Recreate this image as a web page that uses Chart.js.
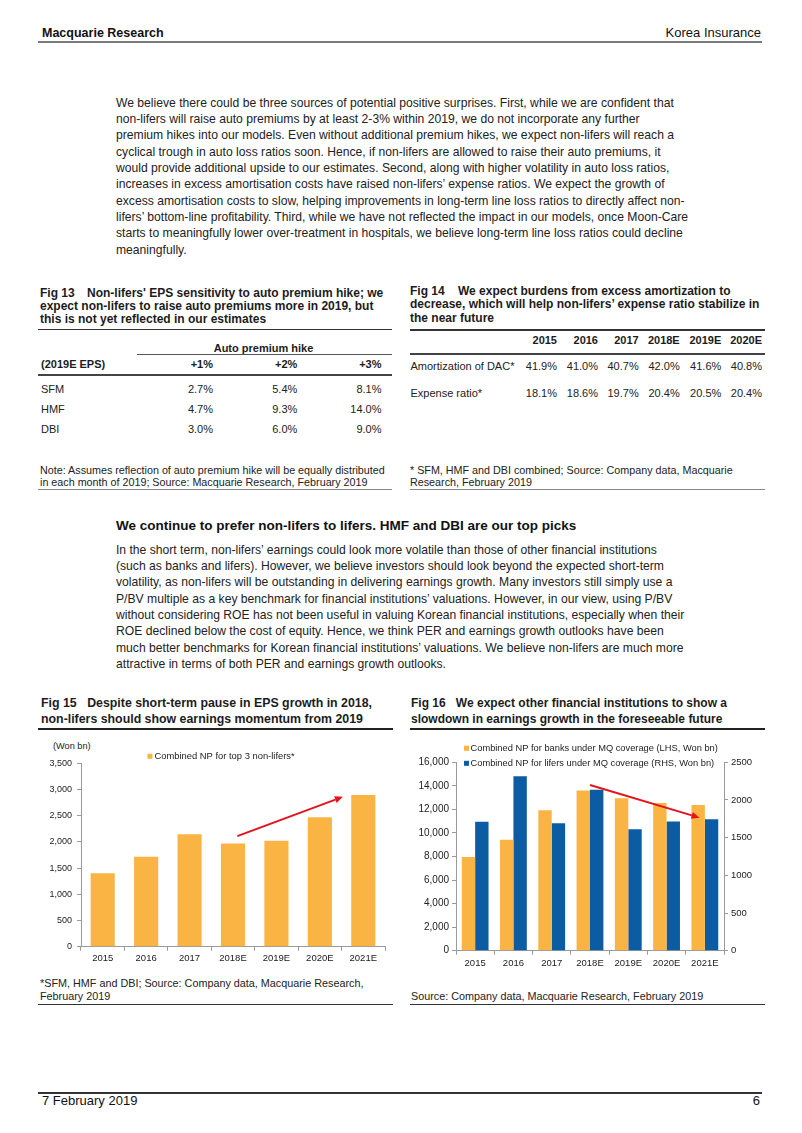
<!DOCTYPE html>
<html><head><meta charset="utf-8">
<script src="https://cdn.jsdelivr.net/npm/chart.js@4.4.1/dist/chart.umd.min.js"></script>
<style>
html,body{margin:0;padding:0;background:#fff;}
body{width:802px;height:1133px;position:relative;overflow:hidden;font-family:"Liberation Sans",Arial,sans-serif;color:#1c1c1c;}
.a{position:absolute;white-space:nowrap;}
.rule{position:absolute;}
.para{position:absolute;left:116px;font-size:12.15px;line-height:16.3px;white-space:nowrap;color:#222;}
.ftitle{position:absolute;font-size:12px;font-weight:bold;line-height:13.2px;white-space:nowrap;}
.ftitle .n{display:inline-block;}
.note{position:absolute;font-size:10.75px;line-height:12.3px;white-space:nowrap;color:#222;}
.ctitle{position:absolute;font-size:13px;font-weight:bold;line-height:16px;white-space:nowrap;}
.ctitle div{transform-origin:0 50%;}
canvas{position:absolute;}
</style>
</head>
<body>
<div id="page"></div>
<script>
// ---------- DATA ----------
const fig13Hikes = ['+1%', '+2%', '+3%'];
const fig13Companies = ['SFM', 'HMF', 'DBI'];
const fig13Sensitivity = [
  [2.7, 5.4, 8.1],
  [4.7, 9.3, 14.0],
  [3.0, 6.0, 9.0]
];
const fig14Years = ['2015', '2016', '2017', '2018E', '2019E', '2020E'];
const fig14Metrics = ['Amortization of DAC*', 'Expense ratio*'];
const fig14AmortDAC = [41.9, 41.0, 40.7, 42.0, 41.6, 40.8];
const fig14ExpenseRatio = [18.1, 18.6, 19.7, 20.4, 20.5, 20.4];

const fig15Years = ['2015', '2016', '2017', '2018E', '2019E', '2020E', '2021E'];
const fig15NonLiferNP = [1400, 1715, 2145, 1970, 2020, 2470, 2895];
const fig15Ticks = [0, 500, 1000, 1500, 2000, 2500, 3000, 3500];
const fig15Arrow = {from: [3.1, 2110], to: [5.53, 2860]};

const fig16Years = ['2015', '2016', '2017', '2018E', '2019E', '2020E', '2021E'];
const fig16BankNP = [7950, 9430, 11920, 13600, 12940, 12550, 12380];
const fig16LiferNP = [1710, 2315, 1690, 2135, 1610, 1715, 1745];
const fig16LeftTicks = [0, 2000, 4000, 6000, 8000, 10000, 12000, 14000, 16000];
const fig16RightTicks = [0, 500, 1000, 1500, 2000, 2500];
const fig16Arrow = {from: [3.0, 14070], to: [5.86, 11300]};

const ORANGE = '#F9B443', BLUE = '#0B5CA3', RED = '#E3141C';

// ---------- PAGE TEXT ----------
const page = document.getElementById('page');
function el(cls, html, style) {
  const d = document.createElement('div');
  d.className = cls; d.innerHTML = html;
  Object.assign(d.style, style || {});
  page.appendChild(d); return d;
}
function txt(html, o) {
  const lh = o.lh || 14;
  const st = {top: (o.cy - lh / 2) + 'px', lineHeight: lh + 'px', fontSize: (o.size || 11) + 'px'};
  if (o.left !== undefined) st.left = o.left + 'px';
  if (o.right !== undefined) { st.right = (802 - o.right) + 'px'; st.textAlign = 'right'; }
  if (o.width !== undefined) { st.width = o.width + 'px'; st.textAlign = 'center'; }
  if (o.bold) st.fontWeight = 'bold';
  if (o.color) st.color = o.color;
  return el('a', html, st);
}
function rule(x1, x2, y, h, c) {
  el('rule', '', {left: x1 + 'px', top: y + 'px', width: (x2 - x1) + 'px', height: h + 'px', background: c});
}

// header / footer
txt('Macquarie Research', {left: 42, cy: 33, size: 12.5, bold: true, lh: 16, color: '#111'});
txt('Korea Insurance', {right: 761, cy: 33, size: 13, lh: 16, color: '#111'});
rule(38, 762, 41, 1.5, '#7a7a7a');
rule(38, 762, 1092, 1.5, '#333');
txt('7 February 2019', {left: 42, cy: 1101, size: 13, lh: 16, color: '#111'});
txt('6', {right: 760, cy: 1101, size: 13, lh: 16, color: '#111'});

// paragraph 1
el('para', [
  'We believe there could be three sources of potential positive surprises. First, while we are confident that',
  'non-lifers will raise auto premiums by at least 2-3% within 2019, we do not incorporate any further',
  'premium hikes into our models. Even without additional premium hikes, we expect non-lifers will reach a',
  'cyclical trough in auto loss ratios soon. Hence, if non-lifers are allowed to raise their auto premiums, it',
  'would provide additional upside to our estimates. Second, along with higher volatility in auto loss ratios,',
  'increases in excess amortisation costs have raised non-lifers\u2019 expense ratios. We expect the growth of',
  'excess amortisation costs to slow, helping improvements in long-term line loss ratios to directly affect non-',
  'lifers\u2019 bottom-line profitability. Third, while we have not reflected the impact in our models, once Moon-Care',
  'starts to meaningfully lower over-treatment in hospitals, we believe long-term line loss ratios could decline',
  'meaningfully.'
].join('<br>'), {top: '94.9px'});

// Fig 13
el('ftitle', '<span class="n" style="width:47px">Fig 13</span>Non-lifers\' EPS sensitivity to auto premium hike; we<br>expect non-lifers to raise auto premiums more in 2019, but<br>this is not yet reflected in our estimates', {left: '40px', top: '286.7px', lineHeight: '13px'});
rule(38, 392, 328.5, 1.6, '#333');
txt('Auto premium hike', {left: 137, width: 253, cy: 347.7, bold: true});
rule(137, 392, 353.5, 1.3, '#555');
const f13ColRight = [213, 297.3, 381.5];
const f13RowY = [389.3, 409.3, 429];
txt('(2019E EPS)', {left: 41, cy: 364.3, bold: true});
fig13Hikes.forEach((h, i) => txt(h, {right: f13ColRight[i], cy: 364.3, bold: true}));
rule(38, 392, 374.3, 1.3, '#444');
fig13Companies.forEach((c, r) => {
  txt(c, {left: 41, cy: f13RowY[r], color: '#222'});
  fig13Sensitivity[r].forEach((v, i) => txt(v.toFixed(1) + '%', {right: f13ColRight[i], cy: f13RowY[r], color: '#222'}));
});
el('note', 'Note: Assumes reflection of auto premium hike will be equally distributed<br>in each month of 2019; Source: Macquarie Research, February 2019', {left: '40px', top: '463.8px'});
rule(38, 392, 489, 1, '#888');

// Fig 14
el('ftitle', '<span class="n" style="width:48px">Fig 14</span>We expect burdens from excess amortization to<br>decrease, which will help non-lifers\u2019 expense ratio stabilize in<br>the near future', {left: '410px', top: '284.9px', lineHeight: '13.6px'});
rule(410, 765, 329, 1.6, '#333');
const f14ColRight = [557, 598, 638.7, 679.7, 721.3, 762];
fig14Years.forEach((y, i) => txt(y, {right: f14ColRight[i], cy: 340, bold: true}));
rule(410, 765, 353.3, 1.3, '#444');
const f14Series = [fig14AmortDAC, fig14ExpenseRatio];
const f14RowY = [365.7, 393.3];
fig14Metrics.forEach((m, r) => {
  txt(m, {left: 410.5, cy: f14RowY[r], color: '#222'});
  f14Series[r].forEach((v, i) => txt(v.toFixed(1) + '%', {right: f14ColRight[i], cy: f14RowY[r], color: '#222'}));
});
el('note', '* SFM, HMF and DBI combined; Source: Company data, Macquarie<br>Research, February 2019', {left: '410px', top: '463.8px'});
rule(410, 765, 489, 1, '#888');

// section heading + paragraph 2
txt('We continue to prefer non-lifers to lifers. HMF and DBI are our top picks', {left: 116, cy: 526, size: 13.5, bold: true, lh: 16, color: '#111'});
el('para', [
  'In the short term, non-lifers\u2019 earnings could look more volatile than those of other financial institutions',
  '(such as banks and lifers). However, we believe investors should look beyond the expected short-term',
  'volatility, as non-lifers will be outstanding in delivering earnings growth. Many investors still simply use a',
  'P/BV multiple as a key benchmark for financial institutions\u2019 valuations. However, in our view, using P/BV',
  'without considering ROE has not been useful in valuing Korean financial institutions, especially when their',
  'ROE declined below the cost of equity. Hence, we think PER and earnings growth outlooks have been',
  'much better benchmarks for Korean financial institutions\u2019 valuations. We believe non-lifers are much more',
  'attractive in terms of both PER and earnings growth outlooks.'
].join('<br>'), {top: '541.9px'});

// Fig 15 / 16 titles
const t15 = el('ctitle', '<div>Fig 15<span style="display:inline-block;width:11px"></span>Despite short-term pause in EPS growth in 2018,</div><div>non-lifers should show earnings momentum from 2019</div>', {left: '41px', top: '695px'});
const t16 = el('ctitle', '<div>Fig 16<span style="display:inline-block;width:11px"></span>We expect other financial institutions to show a</div><div>slowdown in earnings growth in the foreseeable future</div>', {left: '411px', top: '695px'});
function fitBlock(block, target) {
  const first = block.children[0];
  const span = document.createElement('span'); span.innerHTML = first.innerHTML;
  span.style.whiteSpace = 'nowrap'; first.innerHTML = ''; first.appendChild(span);
  const w = span.getBoundingClientRect().width;
  const s = target / w;
  [...block.children].forEach(c => c.style.transform = 'scaleX(' + s + ')');
}
rule(38, 393, 727.5, 2, '#222');
rule(410, 765, 727.5, 2, '#222');
el('note', '*SFM, HMF and DBI; Source: Company data, Macquarie Research,<br>February 2019', {left: '40px', top: '976.8px', fontSize: '10.8px', lineHeight: '13px'});
el('note', 'Source: Company data, Macquarie Research, February 2019', {left: '411px', top: '989.8px', fontSize: '10.8px', lineHeight: '13px'});
rule(38, 393, 1003.5, 1.5, '#333');
rule(410, 765, 1003.5, 1.5, '#333');
txt('(Won bn)', {left: 53, cy: 745.7, size: 9.2, color: '#222'});

// ---------- CHARTS ----------
function mkCanvas(left, top, w, h) {
  const c = document.createElement('canvas');
  c.width = w; c.height = h;
  c.style.left = left + 'px'; c.style.top = top + 'px';
  c.style.width = w + 'px'; c.style.height = h + 'px';
  document.body.appendChild(c); return c;
}
const arrowPlugin = {
  id: 'arrow',
  afterDatasetsDraw(chart, args, o) {
    const xs = chart.scales.x, ys = chart.scales[o.yAxis];
    const x1 = xs.getPixelForValue(o.from[0]), y1 = ys.getPixelForValue(o.from[1]);
    const x2 = xs.getPixelForValue(o.to[0]), y2 = ys.getPixelForValue(o.to[1]);
    const ang = Math.atan2(y2 - y1, x2 - x1);
    const bx = x2 - o.head * Math.cos(ang), by = y2 - o.head * Math.sin(ang);
    const ctx = chart.ctx; ctx.save();
    ctx.strokeStyle = o.color; ctx.fillStyle = o.color; ctx.lineWidth = o.width;
    ctx.beginPath(); ctx.moveTo(x1, y1); ctx.lineTo(bx, by); ctx.stroke();
    ctx.beginPath(); ctx.moveTo(x2, y2);
    ctx.lineTo(bx + o.half * Math.sin(ang), by - o.half * Math.cos(ang));
    ctx.lineTo(bx - o.half * Math.sin(ang), by + o.half * Math.cos(ang));
    ctx.closePath(); ctx.fill();
    ctx.restore();
  }
};
const boxLegend = {
  id: 'boxLegend',
  afterDraw(chart, args, o) {
    const ctx = chart.ctx; ctx.save();
    ctx.font = o.font; ctx.textBaseline = 'middle'; ctx.textAlign = 'left';
    if (o.spacing) ctx.letterSpacing = o.spacing;
    chart.data.datasets.forEach((ds, i) => {
      const y = o.y + i * o.gap;
      ctx.fillStyle = ds.backgroundColor;
      ctx.fillRect(o.x, y - o.box / 2, o.box, o.box);
      ctx.fillStyle = o.color;
      ctx.fillText(ds.label, o.x + o.box + o.pad, y);
    });
    ctx.restore();
  }
};
const AX = '#9a9a9a', TK = '#222';
const fmtComma = v => Number(v).toLocaleString('en-US');

// Fig 15 chart
new Chart(mkCanvas(38, 732, 352, 240), {
  type: 'bar',
  data: {labels: fig15Years, datasets: [{label: 'Combined NP for top 3 non-lifers*', data: fig15NonLiferNP, backgroundColor: ORANGE, barPercentage: 0.555, categoryPercentage: 1}]},
  options: {
    responsive: false, animation: false, devicePixelRatio: 1,
    layout: {padding: {top: 31.3, right: 5, left: 0, bottom: 0}},
    plugins: {legend: {display: false}, tooltip: {enabled: false},
      arrow: {yAxis: 'y', from: fig15Arrow.from, to: fig15Arrow.to, color: RED, width: 2, head: 8, half: 3.5},
      boxLegend: {x: 109.5, y: 24.3, gap: 15, box: 5, pad: 2, font: '9.4px "Liberation Sans", Arial', color: '#222'}},
    scales: {
      x: {grid: {drawOnChartArea: false, tickLength: 4, color: AX, offset: true}, border: {color: AX},
          ticks: {font: {size: 9.5, family: '"Liberation Sans", Arial'}, color: TK, padding: 2, maxRotation: 0, autoSkip: false},
          afterFit(s) { s.height = 25.3; }},
      y: {min: 0, max: 3500, afterBuildTicks(s) { s.ticks = fig15Ticks.map(v => ({value: v})); },
          grid: {drawOnChartArea: false, tickLength: 4, color: AX}, border: {color: AX},
          ticks: {font: {size: 9, family: '"Liberation Sans", Arial'}, color: TK, padding: 5, callback: v => fmtComma(v)},
          afterFit(s) { s.width = 43; }}
    }
  },
  plugins: [arrowPlugin, boxLegend]
});

// Fig 16 chart
new Chart(mkCanvas(408, 738, 360, 240), {
  type: 'bar',
  data: {labels: fig16Years, datasets: [
    {label: 'Combined NP for banks under MQ coverage (LHS, Won bn)', data: fig16BankNP, backgroundColor: ORANGE, yAxisID: 'y', barPercentage: 1, categoryPercentage: 0.7},
    {label: 'Combined NP for lifers under MQ coverage (RHS, Won bn)', data: fig16LiferNP, backgroundColor: BLUE, yAxisID: 'y1', barPercentage: 1, categoryPercentage: 0.7}
  ]},
  options: {
    responsive: false, animation: false, devicePixelRatio: 1,
    layout: {padding: {top: 24.3, right: 0, left: 0, bottom: 0}},
    plugins: {legend: {display: false}, tooltip: {enabled: false},
      arrow: {yAxis: 'y', from: fig16Arrow.from, to: fig16Arrow.to, color: RED, width: 2, head: 8, half: 3.5},
      boxLegend: {x: 56, y: 10.3, gap: 15, box: 5, pad: 1.5, font: '9.3px "Liberation Sans", Arial', color: '#222'}},
    scales: {
      x: {grid: {drawOnChartArea: false, tickLength: 4, color: AX, offset: true}, border: {color: AX},
          ticks: {font: {size: 9.5, family: '"Liberation Sans", Arial'}, color: TK, padding: 3, maxRotation: 0, autoSkip: false},
          afterFit(s) { s.height = 27.3; }},
      y: {position: 'left', min: 0, max: 16000, afterBuildTicks(s) { s.ticks = fig16LeftTicks.map(v => ({value: v})); },
          grid: {drawOnChartArea: false, tickLength: 4, color: AX}, border: {color: AX},
          ticks: {font: {size: 10, family: '"Liberation Sans", Arial'}, color: TK, padding: 3, callback: v => fmtComma(v)},
          afterFit(s) { s.width = 48; }},
      y1: {position: 'right', min: 0, max: 2500, afterBuildTicks(s) { s.ticks = fig16RightTicks.map(v => ({value: v})); },
          grid: {drawOnChartArea: false, tickLength: 4, color: AX}, border: {color: AX},
          ticks: {font: {size: 9.5, family: '"Liberation Sans", Arial'}, color: TK, padding: 3, callback: v => String(v)},
          afterFit(s) { s.width = 44; }}
    }
  },
  plugins: [arrowPlugin, boxLegend]
});

fitBlock(t15, 331);
fitBlock(t16, 316);
</script>
</body></html>
